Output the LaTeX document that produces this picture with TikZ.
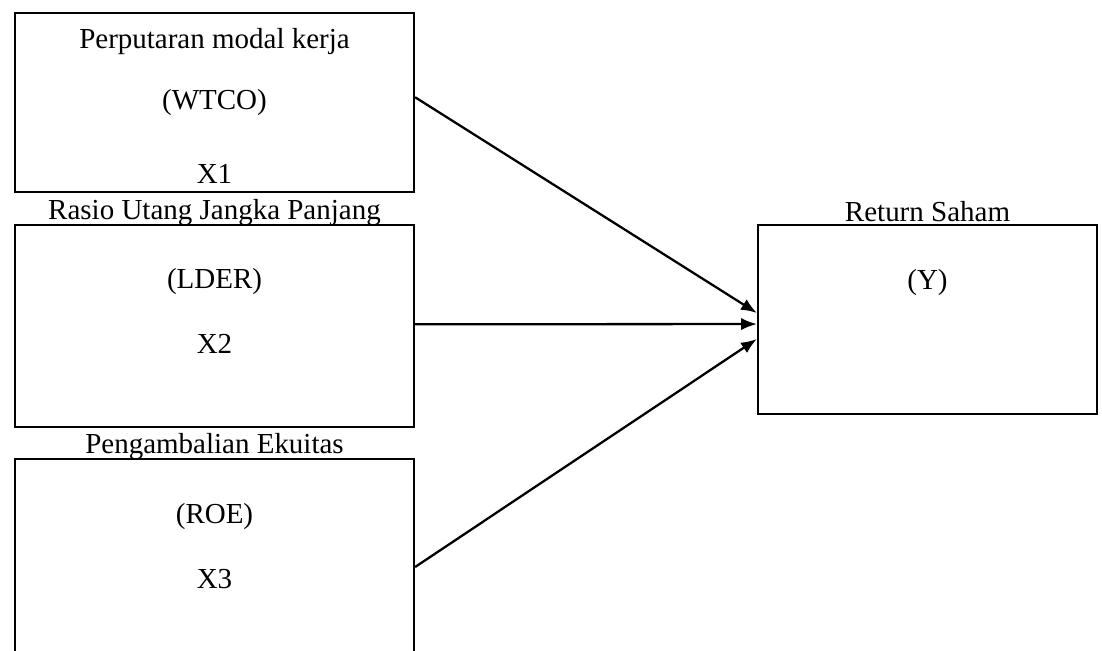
\documentclass[tikz,border=0pt]{standalone}
\usepackage{fontspec}
\setmainfont{Liberation Serif}
\usetikzlibrary{arrows.meta,calc,positioning}
\tikzset{%
	varbox/.style = {draw, rectangle, line width=1.3pt, inner sep=0pt, minimum width=7.98cm},
	lbl/.style    = {anchor=base, inner sep=0pt, font=\fontsize{16.5}{20}\selectfont},
	arrow/.style  = {line width=1.3pt, -{Latex[length=9pt,width=7pt]}},
}

\begin{document}
\begin{tikzpicture}[x=0.02cm,y=-0.02cm]
	\useasboundingbox (0,0) rectangle (1102,651);
	
	\node[varbox, minimum height=3.58cm] (wtco) at (214.5,102.5) {};
	\node[varbox, minimum height=4.04cm] (lder) at (214.5,326) {};
	\node[varbox, minimum height=4.32cm] (roe) at (214.5,567) {};
	\node[varbox, minimum width=6.78cm, minimum height=3.78cm] (ret) at (927.5,319.5) {};
	
	% X1
	\node[lbl] (wtconame) at (214.5,49) {Perputaran modal kerja};
	\node[lbl] (wtcocode) at (214.5,110) {(WTCO)};
	\node[lbl] (wtcovar) at (214.5,184) {X1};
	% X2
	\node[lbl] (ldername) at (214.5,220) {Rasio Utang Jangka Panjang};
	\node[lbl] (ldercode) at (214.5,289) {(LDER)};
	\node[lbl] (ldervar) at (214.5,354) {X2};
	% X3
	\node[lbl] (roename) at (214.5,454) {Pengambalian Ekuitas};
	\node[lbl] (roecode) at (214.5,523) {(ROE)};
	\node[lbl] (roevar) at (214.5,588) {X3};
	% Y
	\node[lbl] (retname) at (927.5,222) {Return Saham};
	\node[lbl] (retcode) at (927.5,290) {(Y)};
	
	\draw[arrow] ([yshift=3pt]wtco.east) -- ([yshift=3.7pt]ret.west);
	\draw[arrow] ([yshift=1pt]lder.east) -- ([yshift=-2.6pt]ret.west);
	\draw[arrow] (roe.east) -- ([yshift=-11.1pt]ret.west);
\end{tikzpicture}
\end{document}
